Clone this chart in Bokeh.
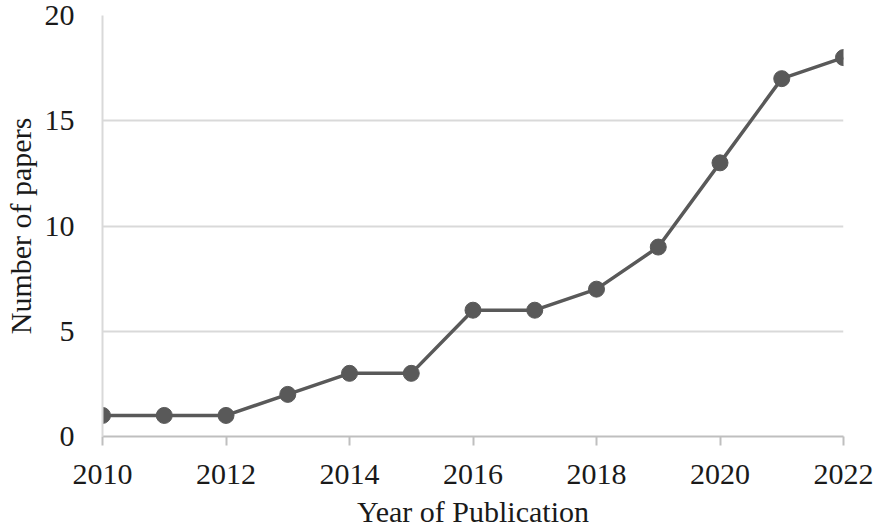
from bokeh.plotting import figure
from bokeh.models import FixedTicker, Range1d
from bokeh.embed import file_html
from bokeh.resources import INLINE

years = [2010, 2011, 2012, 2013, 2014, 2015, 2016, 2017, 2018, 2019, 2020, 2021, 2022]
papers = [1, 1, 1, 2, 3, 3, 6, 6, 7, 9, 13, 17, 18]
x_ticks = [2010, 2012, 2014, 2016, 2018, 2020, 2022]
y_ticks = [0, 5, 10, 15, 20]
x_title = "Year of Publication"
y_title = "Number of papers"

FONT = "Liberation Serif"
p = figure(width=879, height=532, output_backend="svg", toolbar_location=None,
           x_range=Range1d(2010, 2022), y_range=Range1d(0, 20),
           min_border_left=101, min_border_right=36, min_border_top=15, min_border_bottom=96)
p.outline_line_color = None
p.background_fill_color = "white"

p.line(years, papers, line_color="#595959", line_width=3.5)
p.scatter(years, papers, size=16, fill_color="#595959", line_color="#595959")

p.xaxis.ticker = FixedTicker(ticks=x_ticks)
p.yaxis.ticker = FixedTicker(ticks=y_ticks)
p.xgrid.grid_line_color = None
p.ygrid.grid_line_color = "#d9d9d9"
p.ygrid.grid_line_width = 2

p.xaxis.axis_line_color = "#bfbfbf"
p.xaxis.axis_line_width = 2
p.xaxis.major_tick_line_color = "#bfbfbf"
p.xaxis.major_tick_line_width = 2
p.xaxis.major_tick_out = 9
p.xaxis.major_tick_in = 0
p.xaxis.minor_tick_line_color = None
p.xaxis.major_label_standoff = 19
p.xaxis.axis_label = x_title
p.xaxis.axis_label_standoff = 8

p.yaxis.axis_line_color = "#d9d9d9"
p.yaxis.axis_line_width = 2
p.yaxis.major_tick_line_color = None
p.yaxis.minor_tick_line_color = None
p.yaxis.major_tick_out = 0
p.yaxis.major_tick_in = 0
p.yaxis.major_label_standoff = 28
p.yaxis.axis_label = y_title
p.yaxis.axis_label_standoff = 5

for ax in (p.xaxis, p.yaxis):
    ax.major_label_text_font = FONT
    ax.major_label_text_font_size = "30px"
    ax.major_label_text_color = "#1a1a1a"
    ax.axis_label_text_font = FONT
    ax.axis_label_text_font_size = "30px"
    ax.axis_label_text_font_style = "normal"
    ax.axis_label_text_color = "#1a1a1a"

open("out.html", "w").write(file_html(p, INLINE))
